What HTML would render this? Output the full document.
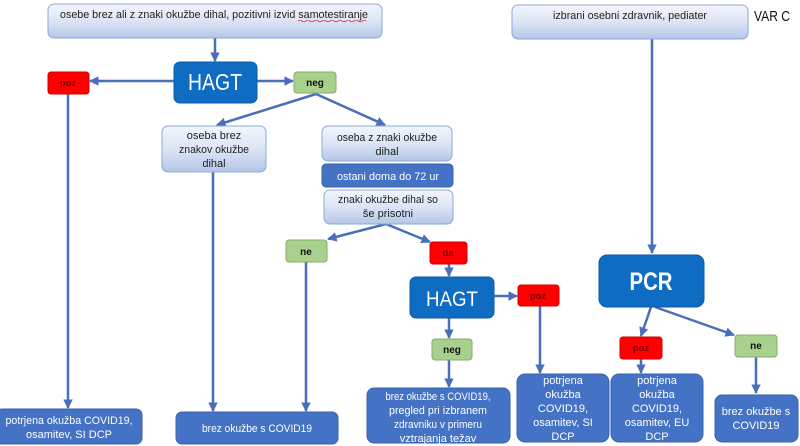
<!DOCTYPE html>
<html><head><meta charset="utf-8">
<style>
html,body{margin:0;padding:0;background:#fff;}
svg{display:block;}
text{font-family:"Liberation Sans",Arial,sans-serif;}
</style></head>
<body>
<svg width="800" height="446" viewBox="0 0 800 446" xmlns="http://www.w3.org/2000/svg">
<defs>
<linearGradient id="lg" x1="0" y1="0" x2="0" y2="1">
<stop offset="0" stop-color="#f3f6fc"/>
<stop offset="0.5" stop-color="#dce5f5"/>
<stop offset="1" stop-color="#b4c6e7"/>
</linearGradient>
<marker id="ah" viewBox="0 0 10 10" refX="9" refY="5" markerWidth="3.8" markerHeight="3.8" orient="auto" markerUnits="strokeWidth">
<path d="M0,0 L10,5 L0,10 z" fill="#4a6fb8"/>
</marker>
</defs>

<!-- connectors -->
<g stroke="#4a6fb8" stroke-width="2.5" fill="none" marker-end="url(#ah)">
<line x1="215" y1="38" x2="215" y2="61"/>
<line x1="174" y1="81" x2="90" y2="81"/>
<line x1="257" y1="81" x2="293" y2="81"/>
<line x1="316" y1="94" x2="217" y2="125"/>
<line x1="316" y1="94" x2="385" y2="125"/>
<line x1="68" y1="94" x2="68" y2="408"/>
<line x1="213" y1="172" x2="213" y2="411"/>
<line x1="386" y1="224" x2="328" y2="239"/>
<line x1="386" y1="224" x2="430" y2="242"/>
<line x1="306" y1="262" x2="306" y2="411"/>
<line x1="449" y1="264" x2="449" y2="276"/>
<line x1="494" y1="296" x2="517" y2="296"/>
<line x1="449" y1="318" x2="449" y2="338"/>
<line x1="449" y1="360" x2="449" y2="387"/>
<line x1="540" y1="306" x2="540" y2="373"/>
<line x1="652" y1="39" x2="652" y2="253"/>
<line x1="651" y1="307" x2="641" y2="336"/>
<line x1="655" y1="307" x2="734" y2="335"/>
<line x1="641" y1="359" x2="641" y2="373"/>
<line x1="756" y1="357" x2="756" y2="393"/>
</g>

<!-- light gradient boxes -->
<g fill="url(#lg)" stroke="#8ea8d6" stroke-width="1">
<rect x="48" y="4" width="334" height="34" rx="6"/>
<rect x="512" y="5" width="236" height="34" rx="6"/>
<rect x="162" y="126" width="104" height="46" rx="6"/>
<rect x="322" y="126" width="130" height="35" rx="6"/>
<rect x="324" y="190" width="129" height="34" rx="6"/>
</g>

<!-- dark blue boxes -->
<g fill="#4472c4" stroke="#3a62ad" stroke-width="1">
<rect x="322" y="164" width="131" height="23" rx="4"/>
<rect x="-4" y="409" width="146" height="35" rx="6"/>
<rect x="176" y="412" width="162" height="32" rx="6"/>
<rect x="367" y="388" width="143" height="55" rx="7"/>
<rect x="517" y="374" width="92" height="68" rx="8"/>
<rect x="611" y="374" width="92" height="68" rx="8"/>
<rect x="715" y="395" width="83" height="47" rx="7"/>
</g>

<!-- HAGT / PCR -->
<g fill="#0f6cc3" stroke="#0b5aa5" stroke-width="1">
<rect x="174" y="62" width="83" height="41" rx="6"/>
<rect x="410" y="277" width="84" height="41" rx="6"/>
<rect x="599" y="255" width="105" height="52" rx="8"/>
</g>

<!-- red -->
<g fill="#ff0000" stroke="#d00000" stroke-width="1">
<rect x="48" y="72" width="41" height="22" rx="3"/>
<rect x="430" y="242" width="37" height="22" rx="3"/>
<rect x="518" y="285" width="41" height="21" rx="3"/>
<rect x="620" y="337" width="42" height="22" rx="3"/>
</g>
<!-- green -->
<g fill="#a9d18e" stroke="#86ad6b" stroke-width="1">
<rect x="294" y="72" width="42" height="21" rx="3"/>
<rect x="286" y="240" width="41" height="22" rx="3"/>
<rect x="432" y="339" width="40" height="21" rx="3"/>
<rect x="735" y="335" width="42" height="22" rx="3"/>
</g>

<!-- text: light boxes -->
<g fill="#1f1f1f" font-size="11" text-anchor="middle">
<text x="214" y="18" textLength="308" lengthAdjust="spacingAndGlyphs">osebe brez ali z znaki okužbe dihal, pozitivni izvid samotestiranje</text>
<text x="630" y="19" textLength="154" lengthAdjust="spacingAndGlyphs">izbrani osebni zdravnik, pediater</text>
<text x="214" y="139">oseba brez</text>
<text x="214" y="153" textLength="70" lengthAdjust="spacingAndGlyphs">znakov okužbe</text>
<text x="214" y="167">dihal</text>
<text x="387" y="141" textLength="100" lengthAdjust="spacingAndGlyphs">oseba z znaki okužbe</text>
<text x="387" y="155">dihal</text>
<text x="388" y="203" textLength="100" lengthAdjust="spacingAndGlyphs">znaki okužbe dihal so</text>
<text x="388" y="217">še prisotni</text>
</g>
<path d="M298,21 q2,-1.5 4,0 t4,0 t4,0 t4,0 t4,0 t4,0 t4,0 t4,0 t4,0 t4,0 t4,0 t4,0 t4,0 t4,0 t4,0 t4,0 t4,0" stroke="#e03030" stroke-width="0.8" fill="none"/>

<text x="754" y="21" font-size="15" fill="#111" textLength="36" lengthAdjust="spacingAndGlyphs">VAR C</text>

<!-- text: dark boxes -->
<g fill="#ffffff" font-size="11" text-anchor="middle">
<text x="388" y="180" textLength="102" lengthAdjust="spacingAndGlyphs">ostani doma do 72 ur</text>
<text x="69" y="424" textLength="127" lengthAdjust="spacingAndGlyphs">potrjena okužba COVID19,</text>
<text x="69" y="438">osamitev,  SI DCP</text>
<text x="257" y="432" textLength="110" lengthAdjust="spacingAndGlyphs">brez okužbe s COVID19</text>
<text x="438" y="400" textLength="105" lengthAdjust="spacingAndGlyphs">brez okužbe s COVID19,</text>
<text x="438" y="414" textLength="98" lengthAdjust="spacingAndGlyphs">pregled pri izbranem</text>
<text x="438" y="428" textLength="88" lengthAdjust="spacingAndGlyphs">zdravniku v primeru</text>
<text x="438" y="442">vztrajanja težav</text>
<text x="563" y="384">potrjena</text>
<text x="563" y="398">okužba</text>
<text x="563" y="412">COVID19,</text>
<text x="563" y="426">osamitev,  SI</text>
<text x="563" y="440">DCP</text>
<text x="657" y="384">potrjena</text>
<text x="657" y="398">okužba</text>
<text x="657" y="412">COVID19,</text>
<text x="657" y="426">osamitev,  EU</text>
<text x="657" y="440">DCP</text>
<text x="756" y="415">brez okužbe s</text>
<text x="756" y="429">COVID19</text>
</g>

<!-- big labels -->
<g fill="#ffffff" text-anchor="middle">
<text x="215" y="90" font-size="23" textLength="54" lengthAdjust="spacingAndGlyphs">HAGT</text>
<text x="452" y="306" font-size="21" textLength="52" lengthAdjust="spacingAndGlyphs">HAGT</text>
<text x="651" y="290" font-size="25" font-weight="bold" textLength="43" lengthAdjust="spacingAndGlyphs">PCR</text>
</g>

<!-- small labels -->
<g font-size="9.5" font-weight="bold" text-anchor="middle">
<text x="68" y="86" fill="#7a0000">poz</text>
<text x="448" y="256" fill="#7a0000">da</text>
<text x="538" y="299" fill="#7a0000">poz</text>
<text x="641" y="351" fill="#7a0000">poz</text>
<text x="315" y="86" fill="#111" font-size="10">neg</text>
<text x="306" y="255" fill="#111" font-size="10">ne</text>
<text x="452" y="353" fill="#111" font-size="10">neg</text>
<text x="756" y="349" fill="#111" font-size="10">ne</text>
</g>
</svg>
</body></html>
